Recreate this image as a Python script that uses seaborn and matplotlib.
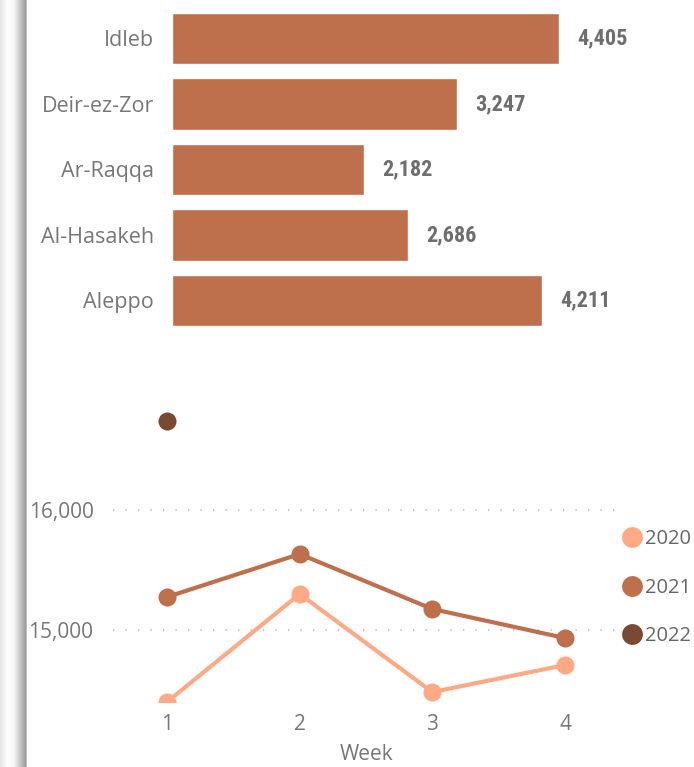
import numpy as np
import pandas as pd
import matplotlib
matplotlib.use('Agg')
import matplotlib.pyplot as plt
from matplotlib.lines import Line2D
import seaborn as sns

# ---- data ----
governorates = ['Idleb', 'Deir-ez-Zor', 'Ar-Raqqa', 'Al-Hasakeh', 'Aleppo']
gov_values = [4405, 3247, 2182, 2686, 4211]

weeks = [1, 2, 3, 4]
y2020 = [14400, 15300, 14483, 14708]
y2021 = [15275, 15633, 15175, 14933]
weeks_2022 = [1]
y2022 = [16742]
years = ['2020', '2021', '2022']

palette = {'2020': '#FFA985', '2021': '#BE6F4B', '2022': '#7B4932'}
bar_color = '#BE6F4B'
text_grey = '#777777'

W, H = 694, 767


def fig_rect(left, top, right, bottom):
    return [left / W, 1 - bottom / H, (right - left) / W, (bottom - top) / H]


sns.set_theme(style='white')
plt.rcParams['font.family'] = ['Open Sans', 'DejaVu Sans']

fig = plt.figure(figsize=(W / 100, H / 100), dpi=100)

# left panel shadow strip
strip = fig.add_axes(fig_rect(0, 0, 28, H))
grad = np.concatenate([np.linspace(0.90, 0.99, 8), np.linspace(0.99, 0.97, 6),
                       np.linspace(0.95, 0.62, 12), np.linspace(0.75, 1.0, 2)])
strip.imshow(grad[np.newaxis, :], aspect='auto', cmap='gray', vmin=0, vmax=1,
             interpolation='bilinear')
strip.set_axis_off()

# ---- bar chart ----
bar_df = pd.DataFrame({'gov': governorates, 'value': gov_values})
ax1 = fig.add_axes(fig_rect(172, 5.75, 690, 333.25))
sns.barplot(data=bar_df, y='gov', x='value', orient='h', color=bar_color,
            saturation=1, width=0.78, ax=ax1)
ax1.set_xlim(0, (690 - 172) / 0.08786)
ax1.set_ylim(4.5, -0.5)
ax1.bar_label(ax1.containers[0], labels=[f'{v:,}' for v in gov_values],
              padding=13, color='#6e6e6e', fontsize=16, fontweight='semibold',
              family=['Roboto Condensed', 'Roboto', 'DejaVu Sans'])
for t in ax1.texts:
    t.set_y(t.get_position()[1] + 0.04)
ax1.set_xlabel('')
ax1.set_ylabel('')
ax1.set_xticks([])
ax1.tick_params(axis='y', length=0, pad=13, labelsize=15.5, labelcolor=text_grey)
sns.despine(ax=ax1, left=True, bottom=True)

# ---- line chart ----
line_df = pd.concat([
    pd.DataFrame({'week': weeks, 'value': y2020, 'year': '2020'}),
    pd.DataFrame({'week': weeks, 'value': y2021, 'year': '2021'}),
    pd.DataFrame({'week': weeks_2022, 'value': y2022, 'year': '2022'}),
])
ax2 = fig.add_axes(fig_rect(113, 395, 620, 702))
for yv in [15000, 16000]:
    ax2.axhline(yv, color='#c4c4c4', linewidth=1.5, linestyle=(0, (0.6, 5.4)),
                zorder=0)
sns.lineplot(data=line_df, x='week', y='value', hue='year', palette=palette,
             marker='o', markersize=13, markeredgewidth=0, linewidth=3,
             legend=False, ax=ax2)
ax2.set_xlim(1 - 54 / 132.7, 4 + 55 / 132.7)
ax2.set_ylim(14400, 14400 + 307 / 0.12)
ax2.set_xticks(weeks)
ax2.set_yticks([15000, 16000])
ax2.set_yticklabels(['15,000', '16,000'])
ax2.tick_params(axis='both', length=0, labelsize=15, labelcolor=text_grey)
ax2.tick_params(axis='y', pad=14)
ax2.tick_params(axis='x', pad=9)
ax2.set_xlabel('Week', fontsize=15, color=text_grey, labelpad=6)
ax2.set_ylabel('')
sns.despine(ax=ax2, left=True, bottom=True)

handles = [Line2D([], [], marker='o', linestyle='', markersize=15,
                  markerfacecolor=palette[y], markeredgewidth=0) for y in years]
fig.legend(handles, years, loc='upper left',
           bbox_to_anchor=(612 / W, 1 - 529 / H), frameon=False,
           fontsize=14.5, labelcolor='#666666', handletextpad=-0.38,
           labelspacing=1.42, borderaxespad=0, borderpad=0)

fig.savefig('out.png', dpi=100, facecolor='white')
